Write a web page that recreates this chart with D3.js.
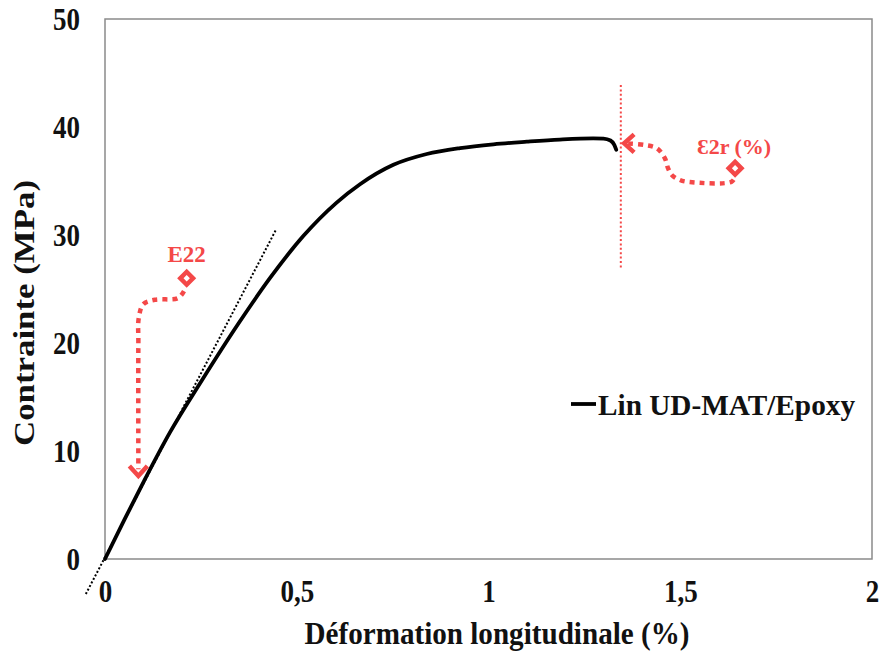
<!DOCTYPE html>
<html>
<head>
<meta charset="utf-8">
<script src="https://cdn.jsdelivr.net/npm/d3@7"></script>
<style>
  html, body { margin: 0; padding: 0; background: #fff; }
  svg { display: block; }
</style>
</head>
<body>
<svg id="chart" width="882" height="652"></svg>
<script>
// Stress–strain curve (strain in %, stress in MPa)
const strain = [0, 0.05, 0.1, 0.169, 0.252, 0.348, 0.43, 0.517, 0.604, 0.665, 0.752, 0.839, 0.926, 1.013, 1.1, 1.186, 1.273, 1.30, 1.318, 1.328, 1.333];
const stress = [0, 3.6, 7.1, 11.7, 16.5, 21.8, 26.0, 29.9, 33.0, 34.7, 36.5, 37.5, 38.05, 38.4, 38.64, 38.84, 38.95, 38.93, 38.75, 38.35, 37.9];

// Initial-slope tangent (dotted)
const tangentX = [-0.05, 0.446];
const tangentY = [-3.24, 30.5];

// Axis ticks
const xTicks = [0, 0.5, 1, 1.5, 2];
const xTickLabels = ["0", "0,5", "1", "1,5", "2"];
const yTicks = [0, 10, 20, 30, 40, 50];
const yTickLabels = ["0", "10", "20", "30", "40", "50"];

// Annotations (data coordinates)
const e22Label = "E22";
const e22Marker = [0.213, 26.0];
const e22PathX = [0.206, 0.19, 0.13, 0.1, 0.088, 0.087, 0.087];
const e22PathY = [24.8, 24.15, 24.0, 23.6, 22.3, 20, 8.3];
const e22Tip = [0.087, 7.6];

const rupLabel = "\u01902r (%)";
const rupMarker = [1.643, 36.18];
const rupPathX = [1.364, 1.408, 1.439, 1.460, 1.468, 1.478, 1.499, 1.525, 1.634, 1.643];
const rupPathY = [38.47, 38.33, 38.03, 37.10, 36.2, 35.56, 35.09, 34.9, 34.94, 35.4];
const rupTip = [1.351, 38.49];
const rupLineX = 1.345;
const rupLineY = [27.0, 43.9];

const legendLabel = "Lin UD-MAT/Epoxy";
const xTitle = "Déformation longitudinale (%)";
const yTitle = "Contrainte (MPa)";

const svg = d3.select("#chart");
const W = 882, H = 652;
const plotL = 105, plotR = 872, plotT = 19, plotB = 559;
const serif = "'Liberation Serif', 'Times New Roman', serif";
const red = "#f44848";
const stretch = 1.14;   // text is drawn slightly taller than wide

const x = d3.scaleLinear().domain([0, 2]).range([plotL, plotR]);
const y = d3.scaleLinear().domain([0, 50]).range([plotB, plotT]);

svg.append("rect").attr("width", W).attr("height", H).attr("fill", "#fff");

// Plot frame
svg.append("rect")
  .attr("x", plotL).attr("y", plotT)
  .attr("width", plotR - plotL).attr("height", plotB - plotT)
  .attr("fill", "none").attr("stroke", "#8a8a8a").attr("stroke-width", 1.5);

// Axes (labels only; frame drawn above)
const xAxis = d3.axisBottom(x).tickValues(xTicks).tickSize(0).tickPadding(0)
  .tickFormat((d, i) => xTickLabels[i]);
const gx = svg.append("g").attr("transform", `translate(0,${plotB})`).call(xAxis);
gx.select(".domain").remove();
gx.selectAll("text")
  .attr("y", 0).attr("dy", null)
  .attr("transform", `translate(0,43) scale(1,${stretch})`)
  .attr("font-family", serif).attr("font-weight", "bold").attr("font-size", 27)
  .attr("fill", "#111");

const yAxis = d3.axisLeft(y).tickValues(yTicks).tickSize(0).tickPadding(0)
  .tickFormat((d, i) => yTickLabels[i]);
const gy = svg.append("g").attr("transform", `translate(${plotL},0)`).call(yAxis);
gy.select(".domain").remove();
gy.selectAll("text")
  .attr("x", -25).attr("y", 0).attr("dy", "0.35em")
  .attr("transform", `scale(1,${stretch})`)
  .attr("font-family", serif).attr("font-weight", "bold").attr("font-size", 27)
  .attr("fill", "#111");

// Axis titles
svg.append("text")
  .attr("transform", `translate(497,644) scale(1,${stretch})`)
  .attr("text-anchor", "middle")
  .attr("font-family", serif).attr("font-weight", "bold").attr("font-size", 28)
  .attr("textLength", 385).attr("lengthAdjust", "spacingAndGlyphs")
  .attr("fill", "#111")
  .text(xTitle);

svg.append("text")
  .attr("transform", `translate(34,313) rotate(-90)`)
  .attr("text-anchor", "middle")
  .attr("font-family", serif).attr("font-weight", "bold").attr("font-size", 29)
  .attr("textLength", 266).attr("lengthAdjust", "spacingAndGlyphs")
  .attr("fill", "#111")
  .text(yTitle);

// Tangent line
svg.append("path")
  .datum(d3.zip(tangentX, tangentY))
  .attr("d", d3.line().x(d => x(d[0])).y(d => y(d[1])))
  .attr("fill", "none").attr("stroke", "#000").attr("stroke-width", 2)
  .attr("stroke-dasharray", "2,2");

// Rupture marker line
svg.append("line")
  .attr("x1", x(rupLineX)).attr("x2", x(rupLineX))
  .attr("y1", y(rupLineY[0])).attr("y2", y(rupLineY[1]))
  .attr("stroke", red).attr("stroke-width", 2).attr("stroke-dasharray", "2,2.4");

// Main curve
svg.append("path")
  .datum(d3.zip(strain, stress))
  .attr("d", d3.line().x(d => x(d[0])).y(d => y(d[1])).curve(d3.curveMonotoneX))
  .attr("fill", "none").attr("stroke", "#000").attr("stroke-width", 3.8)
  .attr("stroke-linejoin", "round").attr("stroke-linecap", "round");

// Annotation helpers
function dottedPath(xs, ys) {
  svg.append("path")
    .datum(d3.zip(xs, ys))
    .attr("d", d3.line().x(d => x(d[0])).y(d => y(d[1])).curve(d3.curveCatmullRom.alpha(0.5)))
    .attr("fill", "none").attr("stroke", red).attr("stroke-width", 4.5)
    .attr("stroke-dasharray", "5,5");
}
function diamond(p) {
  svg.append("rect")
    .attr("x", -4.5).attr("y", -4.5).attr("width", 9).attr("height", 9)
    .attr("transform", `translate(${x(p[0])},${y(p[1])}) rotate(45)`)
    .attr("fill", "#fff").attr("stroke", red).attr("stroke-width", 4.5);
}
function chevron(p, dir) {
  const tx = x(p[0]), ty = y(p[1]);
  const pts = dir === "down"
    ? [[tx - 9, ty - 11], [tx, ty - 1], [tx + 9, ty - 11]]
    : [[tx + 11, ty - 9], [tx + 1, ty], [tx + 11, ty + 9]];
  svg.append("path")
    .attr("d", d3.line()(pts))
    .attr("fill", "none").attr("stroke", red).attr("stroke-width", 4.5)
    .attr("stroke-linejoin", "miter");
}

dottedPath(e22PathX, e22PathY);
chevron(e22Tip, "down");
diamond(e22Marker);
svg.append("text")
  .attr("x", x(e22Marker[0])).attr("y", 262)
  .attr("text-anchor", "middle")
  .attr("font-family", serif).attr("font-weight", "bold").attr("font-size", 23)
  .attr("fill", red)
  .text(e22Label);

dottedPath(rupPathX, rupPathY);
chevron(rupTip, "left");
diamond(rupMarker);
svg.append("text")
  .attr("x", x(rupMarker[0]) - 1).attr("y", 154)
  .attr("text-anchor", "middle")
  .attr("font-family", serif).attr("font-weight", "bold").attr("font-size", 22)
  .attr("fill", red)
  .text(rupLabel);

// Legend
svg.append("line")
  .attr("x1", 571).attr("x2", 596).attr("y1", 404).attr("y2", 404)
  .attr("stroke", "#000").attr("stroke-width", 3.8);
svg.append("text")
  .attr("transform", `translate(598,404) scale(1,1.05)`)
  .attr("dy", "0.35em")
  .attr("font-family", serif).attr("font-weight", "bold").attr("font-size", 29)
  .attr("textLength", 257).attr("lengthAdjust", "spacingAndGlyphs")
  .attr("fill", "#111")
  .text(legendLabel);
</script>
</body>
</html>
